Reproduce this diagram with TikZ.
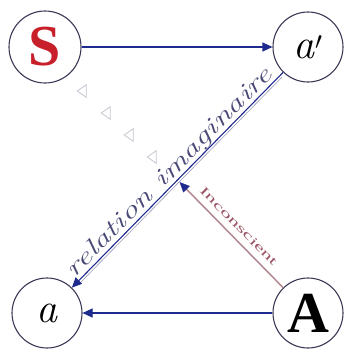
\documentclass[tikz,border=0pt]{standalone}
\usepackage{fontspec}
\setmainfont{Liberation Serif}
\newfontfamily\lmfont{Latin Modern Roman}
\usetikzlibrary{arrows.meta,shapes.geometric,calc}
\definecolor{navy}{HTML}{1F2A8F}
\definecolor{ring}{HTML}{3A3A58}
\definecolor{sred}{HTML}{C8202A}
\definecolor{imgtxt}{HTML}{4A4A78}
\definecolor{incline}{HTML}{C89AA4}
\definecolor{inctxt}{HTML}{9A5464}
\definecolor{trig}{HTML}{C4C4D0}
\begin{document}
\begin{tikzpicture}[x=1pt,y=-1pt,
  place/.style={circle,draw=ring,line width=1.1pt,minimum size=70pt,inner sep=0pt},
  conn/.style={draw=navy,line width=1.1pt,-{Triangle[length=10pt,width=9pt]}},
  trimark/.style={isosceles triangle,draw=trig,line width=0.8pt,minimum height=9pt,minimum width=8pt,inner sep=0pt,shape border rotate=135,isosceles triangle apex angle=70}
]
\useasboundingbox (0,0) rectangle (346,349);
\node[place,minimum size=72pt] (S) at (45,47) {\fontsize{58}{58}\selectfont\bfseries\color{sred}S};
\node[place] (ap) at (308,47) {\fontsize{42}{42}\selectfont\lmfont\itshape a\/$'$};
\node[place] (a) at (47,313) {\fontsize{42}{42}\selectfont\lmfont\itshape a\/};
\node[place] (A) at (308,313) {\fontsize{58}{58}\selectfont\bfseries A};
% open triangles along S--A
\node[trimark] (t1) at (83,91) {};
\node[trimark] (t2) at (107,113) {};
\node[trimark] (t3) at (130,135) {};
\node[trimark] (t4) at (153,157) {};
% arrows
\draw[conn] (S) -- (ap);
\draw[conn] (A) -- (a);
\draw[draw=imgtxt!55,line width=0.6pt,shorten >=46pt,shorten <=40pt] ($(ap)+(1.8,1.8)$) -- ($(a)+(1.8,1.8)$);
\draw[conn] (ap) -- (a);
\coordinate (m) at ($(ap)!0.5!(a)$);
\draw[draw=incline,line width=1.6pt,shorten >=7pt] (A) -- (m);
\draw[draw=incline!80!black,line width=0.5pt,-{Triangle[length=10pt,width=9pt,color=navy]},shorten >=3pt] (A) -- (m);
% labels
\node[anchor=base,rotate=45.5,text=imgtxt,inner sep=0pt] (ri) at (174,177) {\fontsize{24}{24}\selectfont\lmfont\itshape\scalebox{1.46}[1]{relation imaginaire}};
\node[anchor=base,rotate=-45.5,text=inctxt,inner sep=0pt] (inc) at (236,229) {\fontsize{12}{12}\selectfont\scalebox{1.9}[1]{Inconscient}};
\end{tikzpicture}
\end{document}
